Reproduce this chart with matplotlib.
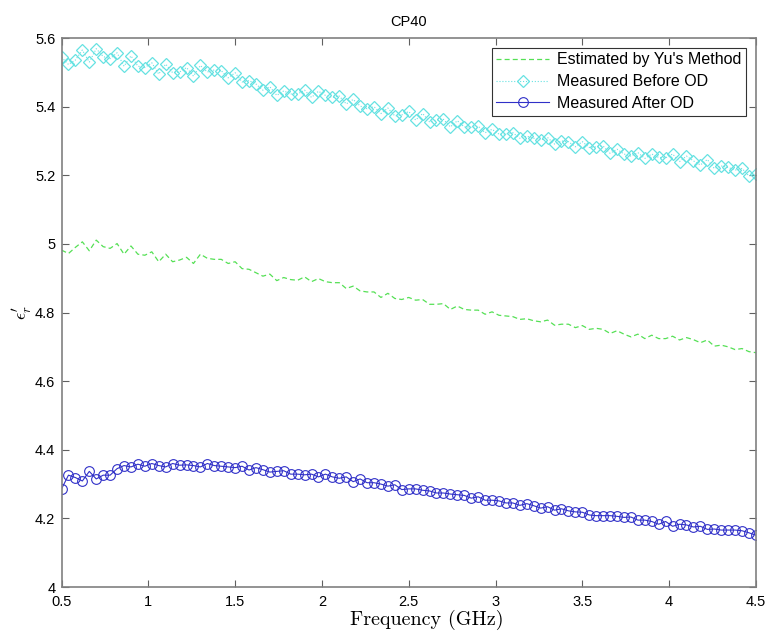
import numpy as np
import matplotlib
matplotlib.use("Agg")
import matplotlib.pyplot as plt

plt.rcParams['mathtext.fontset'] = 'cm'

freq = np.linspace(0.5, 4.5, 101)

estimated = [
    4.982, 4.972, 4.990, 5.006, 4.980, 5.011, 4.992, 4.987, 5.001, 4.970,
    4.994, 4.970, 4.967, 4.977, 4.948, 4.970, 4.948, 4.953, 4.961, 4.943,
    4.970, 4.958, 4.955, 4.955, 4.943, 4.948, 4.928, 4.926, 4.916, 4.906,
    4.912, 4.893, 4.902, 4.896, 4.894, 4.904, 4.890, 4.899, 4.890, 4.887,
    4.887, 4.870, 4.877, 4.863, 4.860, 4.860, 4.844, 4.856, 4.841, 4.838,
    4.844,
    4.836, 4.838, 4.824, 4.824, 4.826, 4.809, 4.819, 4.809, 4.807, 4.807,
    4.795, 4.802, 4.792, 4.790, 4.788, 4.780, 4.782, 4.776, 4.773, 4.778,
    4.763, 4.766, 4.766, 4.756, 4.762, 4.751, 4.754, 4.751, 4.739, 4.747,
    4.737, 4.729, 4.737, 4.724, 4.734, 4.724, 4.724, 4.731, 4.720, 4.727,
    4.721, 4.712, 4.720, 4.702, 4.705, 4.700, 4.692, 4.695, 4.686, 4.683,
]

before_od = [
    5.544, 5.523, 5.536, 5.565, 5.530, 5.569, 5.546, 5.540, 5.557, 5.518,
    5.548, 5.518, 5.514, 5.528, 5.495, 5.524, 5.499, 5.501, 5.514, 5.489,
    5.520, 5.501, 5.507, 5.505, 5.484, 5.499, 5.472, 5.476, 5.466, 5.448,
    5.458, 5.433, 5.446, 5.437, 5.437, 5.448, 5.427, 5.445, 5.433, 5.427,
    5.431, 5.408, 5.421, 5.402, 5.394, 5.400, 5.380, 5.396, 5.373, 5.376,
    5.386,
    5.361, 5.380, 5.356, 5.361, 5.363, 5.341, 5.359, 5.341, 5.340, 5.343,
    5.324, 5.334, 5.320, 5.320, 5.324, 5.308, 5.314, 5.308, 5.303, 5.310,
    5.291, 5.300, 5.298, 5.283, 5.298, 5.281, 5.283, 5.285, 5.264, 5.276,
    5.262, 5.256, 5.266, 5.249, 5.262, 5.252, 5.251, 5.262, 5.240, 5.256,
    5.242, 5.230, 5.246, 5.220, 5.227, 5.223, 5.215, 5.220, 5.198, 5.204,
]

after_od = [
    4.286, 4.326, 4.319, 4.309, 4.337, 4.315, 4.326, 4.326, 4.345, 4.354,
    4.350, 4.358, 4.352, 4.360, 4.354, 4.350, 4.360, 4.355, 4.356, 4.354,
    4.350, 4.360, 4.354, 4.352, 4.350, 4.348, 4.352, 4.341, 4.348, 4.342,
    4.335, 4.337, 4.339, 4.329, 4.329, 4.327, 4.329, 4.321, 4.329, 4.321,
    4.317, 4.321, 4.307, 4.315, 4.304, 4.304, 4.300, 4.294, 4.298, 4.284,
    4.286,
    4.286, 4.282, 4.280, 4.274, 4.274, 4.271, 4.269, 4.267, 4.259, 4.263,
    4.253, 4.253, 4.251, 4.245, 4.245, 4.238, 4.243, 4.237, 4.230, 4.234,
    4.224, 4.228, 4.222, 4.219, 4.218, 4.210, 4.208, 4.208, 4.208, 4.206,
    4.203, 4.204, 4.195, 4.195, 4.191, 4.183, 4.191, 4.177, 4.183, 4.181,
    4.175, 4.177, 4.168, 4.169, 4.166, 4.166, 4.166, 4.164, 4.158, 4.151,
]

labels = ["Estimated by Yu's Method", "Measured Before OD", "Measured After OD"]
xticks = [0.5, 1, 1.5, 2, 2.5, 3, 3.5, 4, 4.5]
yticks = [4, 4.2, 4.4, 4.6, 4.8, 5, 5.2, 5.4, 5.6]
ytick_labels = ['4', '4.2', '4.4', '4.6', '4.8', '5', '5.2', '5.4', '5.6']
xtick_labels = ['0.5', '1', '1.5', '2', '2.5', '3', '3.5', '4', '4.5']

fig = plt.figure(figsize=(7.69, 6.31), dpi=100)
ax = fig.add_axes([0.080, 0.0697, 0.903, 0.870])

ax.plot(freq, estimated, linestyle='--', color='#55e055', linewidth=0.9,
        dashes=(4, 2.5), label=labels[0])
ax.plot(freq, before_od, linestyle=':', color='#66e2e2', linewidth=0.8,
        marker='D', markersize=6.3, markerfacecolor='none',
        markeredgecolor='#66e2e2', markeredgewidth=0.9, label=labels[1])
ax.plot(freq, after_od, linestyle='-', color='#3030c8', linewidth=0.8,
        marker='o', markersize=7, markerfacecolor='none',
        markeredgecolor='#3030c8', markeredgewidth=0.8, label=labels[2])

ax.set_xlim(0.5, 4.5)
ax.set_ylim(4, 5.6)
ax.set_xticks(xticks)
ax.set_xticklabels(xtick_labels)
ax.set_yticks(yticks)
ax.set_yticklabels(ytick_labels)

tickfont = 'Liberation Sans'
for lab in ax.get_xticklabels() + ax.get_yticklabels():
    lab.set_fontfamily(tickfont)
    lab.set_fontsize(10.5)
for lab in ax.get_yticklabels():
    lab.set_verticalalignment('center_baseline')

ax.tick_params(direction='in', top=True, right=True, length=5, width=0.8,
               color='#606060')
ax.tick_params(axis='y', pad=4.5)
ax.tick_params(axis='x', pad=5.5)
for sp in ax.spines.values():
    sp.set_color('#808080')
    sp.set_linewidth(1.2)

ax.set_title('CP40', fontfamily=tickfont, fontsize=10.5, pad=9)
ax.set_xlabel('Frequency (GHz)', fontfamily='cmr10', fontsize=14.5)
ax.xaxis.set_label_coords(0.526, -0.041)
ax.set_ylabel(r"$\epsilon_r'$", fontsize=13, labelpad=1)

leg = ax.legend(loc='upper right', prop={'family': tickfont, 'size': 11.5},
                frameon=True, fancybox=False, edgecolor='black',
                borderaxespad=0.6, handlelength=3.3, handletextpad=0.5,
                labelspacing=0.42, borderpad=0.3)
leg.get_frame().set_linewidth(0.8)

fig.savefig('out.png', dpi=100)
